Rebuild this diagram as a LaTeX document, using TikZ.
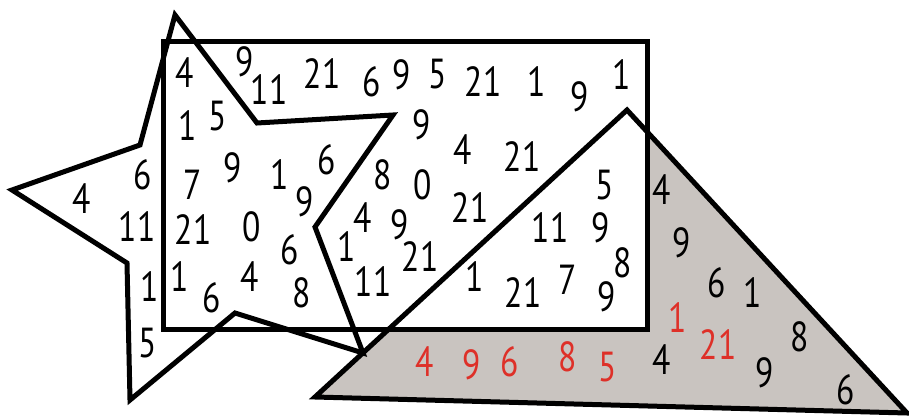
\documentclass[tikz,border=0pt]{standalone}
\usepackage{fontspec}
\setmainfont[FakeStretch=0.8]{PT Sans}
\definecolor{tgray}{RGB}{201,196,192}
\definecolor{tred}{RGB}{222,48,40}
\begin{document}
\begin{tikzpicture}[x=1pt,y=-1pt,
  outline/.style={line width=5pt, line join=miter, miter limit=10},
  num/.style={font=\fontsize{42}{42}\selectfont, inner sep=0pt, text=black},
  rnum/.style={num, text=tred}]
\useasboundingbox (0,0) rectangle (909,417);
% triangle fill (behind the rectangle)
\fill[tgray] (627,110) -- (315,397) -- (907,413) -- cycle;
% rectangle with white fill
\fill[white] (163,42) rectangle (647,329);
\draw[outline] (163,42) rectangle (647,329);
% triangle outline
\draw[outline] (627,110) -- (315,397) -- (907,413) -- cycle;
% star outline
\draw[outline] (175,15) -- (257,123) -- (393,115) -- (315,227) -- (363,353)
  -- (235,313) -- (130,400) -- (127,263) -- (12,190) -- (140,145) -- cycle;
% black numbers
\foreach \x/\y/\t [count=\i] in {
  185/73/4, 245/62/9, 269/90/11, 322/74/21, 372/82/6, 402/75/9, 438/74/5,
  483/82/21, 537/82/1, 580/97/9, 622/75/1, 188/126/1, 218/116/5, 422/125/9,
  463/150/4, 522/157/21, 82/199/4, 143/175/6, 193/185/7, 233/168/9, 280/175/1,
  327/160/6, 305/202/9, 383/175/8, 423/185/0, 605/185/5, 137/227/11,
  193/230/21, 252/227/0, 290/250/6, 363/218/4, 400/225/9, 470/208/21,
  347/247/1, 550/228/11, 601/228/9, 150/287/1, 180/277/1, 212/298/6,
  250/277/4, 302/293/8, 420/257/21, 373/282/11, 475/277/1, 523/293/21,
  568/280/7, 607/297/9, 623/263/8, 148/343/5, 662/190/4, 682/243/9,
  717/283/6, 753/293/1, 800/337/8, 662/360/4, 765/373/9, 846/390/6}
  \node[num] (b\i) at (\x,\y) {\t};
% red numbers
\foreach \x/\y/\t [count=\i] in {
  425/362/4, 472/365/9, 510/362/6, 568/357/8, 608/367/5, 678/318/1, 718/345/21}
  \node[rnum] (r\i) at (\x,\y) {\t};
\end{tikzpicture}
\end{document}
